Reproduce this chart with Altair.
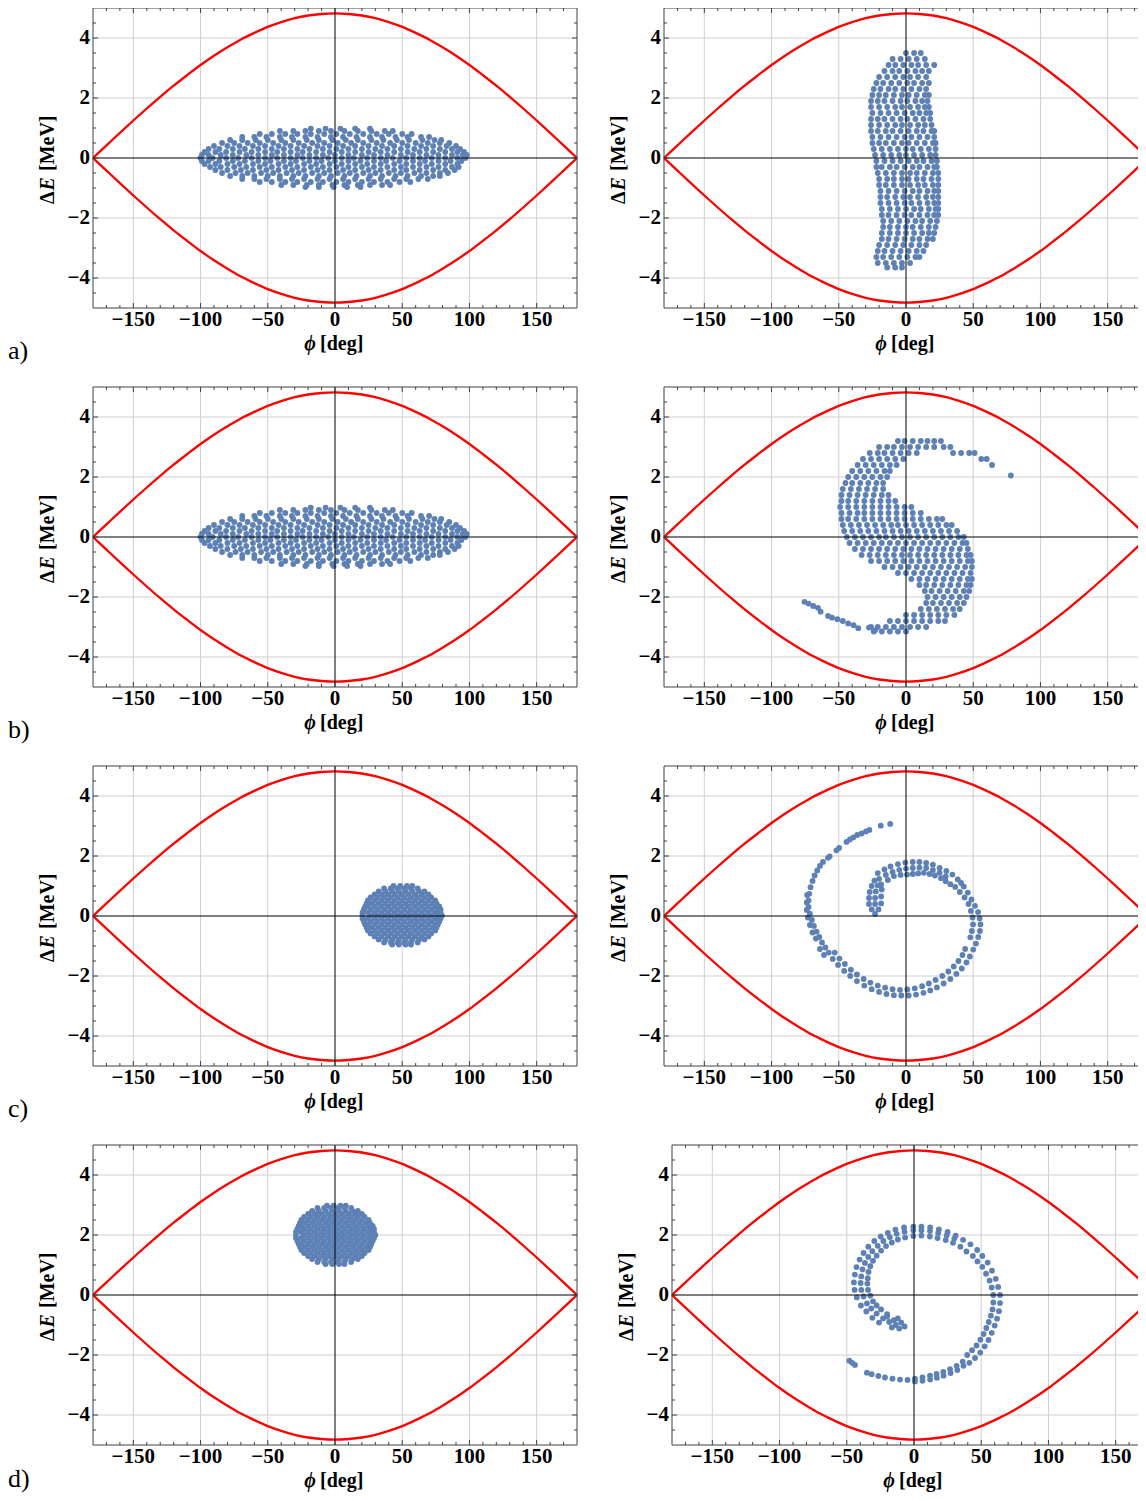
import altair as alt
import pandas as pd

W = 484          # plot width of one panel
H = 300          # plot height
CANVAS_W = 1130  # page width 1146 minus the two 8px body margins
CANVAS_H = 1485  # page height 1501 minus the two 8px body margins
FONT = "Liberation Serif, Times New Roman, DejaVu Serif, serif"
BLUE = "#5E81B5"
RED = "#FF0000"
GRID = "#cfcfcf"
FRAME = "#404040"

# panel origins (left, top) in canvas pixels
col_left = [85, 656]
row_top = [0, 379, 758, 1137]

# ---------------- axis / tick values ----------------
phi_major = [-150, -100, -50, 0, 50, 100, 150]
phi_minor = [-170, -160, -140, -130, -120, -110, -90, -80, -70, -60, -40, -30, -20, -10,
             10, 20, 30, 40, 60, 70, 80, 90, 110, 120, 130, 140, 160, 170]
dE_major = [-4, -2, 0, 2, 4]
dE_minor = [-4.5, -3.5, -3, -2.5, -1.5, -1, -0.5, 0.5, 1, 1.5, 2.5, 3, 3.5, 4.5]
phi_grid = [-150, -100, -50, 50, 100, 150]
dE_grid = [-4, -2, 2, 4]
zero = [0]
row_labels = ["a)", "b)", "c)", "d)"]
x_title = ["ϕ", "[deg]"]
y_title = ["Δ", "E", "[MeV]"]

# ---------------- separatrix ----------------
sep_phi = [-180, -170, -160, -150, -140, -130, -120, -110, -100, -90, -80, -70, -60, -50, -40, -30,
           -20, -10, 0, 10, 20, 30, 40, 50, 60, 70, 80, 90, 100, 110, 120, 130, 140, 150, 160, 170, 180]
sep_dE = [0.00, 0.42, 0.84, 1.25, 1.65, 2.04, 2.41, 2.76, 3.10, 3.41, 3.69, 3.95, 4.17, 4.37, 4.53, 4.66,
          4.75, 4.80, 4.82, 4.80, 4.75, 4.66, 4.53, 4.37, 4.17, 3.95, 3.69, 3.41, 3.10, 2.76, 2.41, 2.04,
          1.65, 1.25, 0.84, 0.42, 0.00]

# ---------------- particle clouds ----------------
# a) / b) left: initial elliptical bunch   (dE, [phi ...])
ellipse_rows = [
    (0.98, [-18, -7, 4, 15, 26]),
    (0.90, [-41, -31, -22, -12, -3, 7, 17, 27, 37, 43]),
    (0.80, [-56, -47, -37, -28, -18, -8, 1, 11, 21, 31, 40, 50, 57]),
    (0.70, [-69, -60, -51, -41, -32, -22, -13, -3, 6, 16, 26, 35, 45, 54, 64, 70]),
    (0.60, [-78, -69, -59, -50, -40, -31, -21, -12, -2, 8, 17, 27, 36, 46, 55, 65, 74, 79]),
    (0.50, [-84, -75, -65, -56, -46, -37, -27, -17, -8, 2, 12, 21, 31, 41, 50, 60, 69, 78, 85]),
    (0.40, [-90, -80, -71, -61, -52, -42, -33, -23, -13, -4, 6, 15, 25, 35, 44, 54, 64, 73, 83, 90]),
    (0.30, [-94, -86, -76, -67, -57, -47, -38, -28, -19, -9, 1, 10, 20, 30, 39, 49, 59, 68, 78, 87, 93]),
    (0.20, [-97, -89, -81, -71, -62, -52, -43, -33, -24, -14, -4, 5, 15, 25, 34, 44, 54, 63, 73, 82, 91, 96]),
    (0.10, [-99, -94, -85, -76, -66, -57, -47, -38, -28, -19, -9, 0, 10, 20, 29, 39, 49, 58, 68, 77, 87, 95, 98]),
    (0.00, [-100, -91, -81, -72, -62, -52, -43, -33, -24, -14, -5, 5, 14, 24, 34, 43, 53, 63, 72, 82, 91, 97]),
    (-0.10, [-99, -94, -86, -76, -67, -57, -48, -38, -29, -19, -10, 0, 10, 19, 29, 38, 48, 58, 67, 77, 86, 94]),
    (-0.20, [-97, -89, -80, -71, -61, -52, -42, -33, -23, -14, -4, 5, 15, 24, 34, 44, 53, 63, 72, 82, 91]),
    (-0.30, [-93, -85, -75, -66, -56, -47, -37, -28, -18, -9, 1, 10, 20, 29, 39, 49, 58, 68, 77, 87, 92]),
    (-0.40, [-89, -80, -70, -61, -51, -42, -32, -23, -13, -4, 6, 15, 25, 34, 44, 53, 63, 73, 82, 89]),
    (-0.50, [-84, -74, -65, -55, -46, -36, -27, -17, -8, 2, 11, 21, 30, 40, 49, 59, 68, 78, 84]),
    (-0.60, [-78, -69, -60, -50, -41, -31, -22, -12, -3, 7, 16, 26, 35, 45, 54, 64, 73, 78]),
    (-0.70, [-69, -60, -51, -41, -32, -23, -13, -4, 6, 15, 25, 34, 44, 53, 62, 69]),
    (-0.80, [-56, -47, -37, -28, -18, -9, 1, 10, 20, 29, 39, 48, 56]),
    (-0.90, [-40, -31, -21, -12, -2, 7, 17, 26, 35, 41]),
    (-0.97, [-22, -12, -1, 9, 19]),
]

# a) right: banana after a quarter turn   (dE, [phi ...])
banana_rows = [
    (3.50, [0, 6, 11]),
    (3.30, [-10, -4, 2, 8, 14]),
    (3.10, [-13, -8, -2, 4, 9, 15, 21]),
    (2.90, [-16, -10, -5, 1, 7, 12, 17]),
    (2.70, [-20, -14, -8, -2, 3, 9, 15]),
    (2.50, [-22, -17, -11, -5, 1, 6, 12, 17]),
    (2.30, [-24, -19, -13, -8, -2, 4, 10, 15]),
    (2.10, [-25, -20, -15, -9, -3, 2, 8, 14, 17]),
    (1.90, [-26, -21, -16, -10, -4, 1, 7, 12, 16]),
    (1.70, [-26, -20, -14, -8, -3, 3, 9, 14, 17]),
    (1.50, [-25, -19, -13, -7, -1, 5, 10, 15, 18]),
    (1.30, [-26, -21, -16, -10, -4, 1, 7, 13, 18]),
    (1.10, [-26, -20, -14, -8, -3, 3, 9, 14, 19]),
    (0.90, [-26, -21, -15, -10, -4, 2, 8, 13, 19, 21]),
    (0.70, [-25, -19, -13, -7, -1, 4, 10, 16, 21]),
    (0.50, [-25, -20, -15, -9, -3, 2, 8, 14, 20, 22]),
    (0.30, [-24, -18, -12, -6, 0, 5, 11, 17, 22]),
    (0.10, [-23, -17, -11, -5, 0, 6, 12, 18, 22]),
    (-0.10, [-22, -16, -10, -4, 2, 8, 13, 19, 23]),
    (-0.30, [-22, -18, -12, -7, -1, 5, 10, 16, 21, 23]),
    (-0.50, [-21, -15, -9, -3, 3, 8, 14, 20, 24]),
    (-0.70, [-20, -14, -9, -3, 2, 8, 13, 19, 24]),
    (-0.90, [-20, -15, -9, -3, 3, 9, 14, 20, 24]),
    (-1.10, [-19, -13, -7, -1, 5, 10, 16, 21, 24]),
    (-1.30, [-19, -14, -8, -2, 3, 9, 15, 20, 24]),
    (-1.50, [-19, -13, -7, -1, 4, 10, 16, 21, 24]),
    (-1.70, [-18, -12, -6, 0, 6, 11, 17, 22, 24]),
    (-1.90, [-18, -13, -7, -1, 4, 10, 16, 21, 24]),
    (-2.10, [-17, -11, -5, 1, 7, 12, 18, 23]),
    (-2.30, [-17, -12, -6, 0, 5, 11, 17, 22]),
    (-2.50, [-18, -12, -6, 0, 6, 12, 17, 21]),
    (-2.70, [-18, -13, -7, -1, 5, 10, 16, 20]),
    (-2.90, [-20, -14, -8, -2, 4, 10, 15]),
    (-3.10, [-21, -16, -10, -4, 2, 8, 13]),
    (-3.30, [-22, -17, -11, -5, 1, 7, 10]),
    (-3.50, [-21, -15, -9, -3, 3]),
    (-3.65, [-14, -8, -3]),
]

# b) right: S-shaped filament   (dE, [phi ...]) plus lower-left tail points
s_rows = [
    (3.20, [-6, -1, 5, 11, 16, 21, 26]),
    (3.00, [-20, -14, -9, -3, 3, 9, 15, 21, 28, 33]),
    (2.80, [-27, -21, -16, -10, -4, 2, 8, 35, 41, 47, 51]),
    (2.60, [-32, -26, -20, -14, -8, -2, 56, 60]),
    (2.40, [-36, -30, -24, -18, -12, -7, 64]),
    (2.20, [-40, -34, -28, -22, -16, -12]),
    (2.05, [78]),
    (2.00, [-43, -37, -31, -25, -19, -14]),
    (1.80, [-45, -40, -34, -28, -22, -17]),
    (1.60, [-47, -41, -35, -29, -23, -17]),
    (1.40, [-48, -42, -36, -30, -24, -18, -13]),
    (1.20, [-48, -43, -37, -31, -25, -19, -13, -8]),
    (1.00, [-49, -43, -37, -31, -25, -19, -13, -7, -1, 4]),
    (0.80, [-48, -42, -36, -31, -25, -19, -13, -7, -1, 5, 11]),
    (0.60, [-48, -43, -37, -31, -25, -19, -13, -7, -1, 5, 11, 17, 23, 27]),
    (0.40, [-47, -41, -35, -29, -23, -17, -11, -6, 0, 6, 12, 18, 24, 30, 34]),
    (0.20, [-46, -40, -34, -28, -22, -16, -10, -4, 2, 8, 14, 20, 26, 32, 38]),
    (0.00, [-44, -38, -32, -26, -20, -15, -9, -3, 3, 9, 15, 21, 27, 33, 39, 43]),
    (-0.20, [-42, -36, -30, -24, -18, -12, -6, 0, 6, 12, 18, 24, 30, 36, 42, 45]),
    (-0.40, [-38, -32, -26, -20, -14, -8, -2, 4, 10, 16, 22, 28, 34, 40, 46]),
    (-0.60, [-33, -27, -21, -15, -9, -3, 3, 9, 15, 21, 27, 33, 39, 45, 48]),
    (-0.80, [-26, -20, -14, -8, -2, 4, 10, 16, 22, 28, 34, 40, 46, 49]),
    (-1.00, [-16, -10, -4, 2, 8, 14, 20, 26, 32, 38, 44, 49]),
    (-1.20, [-6, 0, 6, 12, 18, 24, 30, 36, 42, 48]),
    (-1.40, [4, 10, 16, 22, 28, 34, 40, 46, 49]),
    (-1.60, [10, 15, 21, 27, 33, 39, 45, 48]),
    (-1.80, [14, 19, 25, 31, 37, 43, 47]),
    (-2.00, [16, 22, 28, 34, 40, 45]),
    (-2.20, [15, 20, 26, 32, 38, 43]),
    (-2.40, [11, 17, 23, 29, 35, 40]),
    (-2.60, [0, 6, 12, 18, 24, 30, 36]),
    (-2.80, [-12, -6, 0, 6, 12, 18, 24, 29]),
    (-3.00, [-26, -21, -15, -9, -3, 3, 9, 15]),
    (-3.15, [-24, -18, -12, -6, 0]),
]
s_tail = [(-75.5, -2.16), (-72.5, -2.22), (-69, -2.30), (-65.5, -2.36), (-63.5, -2.49), (-58, -2.63),
          (-55, -2.69), (-51, -2.74), (-47, -2.80), (-43, -2.88), (-39, -2.94), (-35.5, -3.04),
          (-27.5, -3.02), (-23, -3.11)]

# c) / d) left: small round bunch, offsets from its centre   (d_dE, [d_phi ...])
bunch_rows = [
    (0.98, [-6, -1, 4, 8]),
    (0.90, [-13, -8, -3, 2, 7, 12]),
    (0.80, [-17, -12, -7, -2, 3, 8, 13, 17]),
    (0.70, [-20, -15, -10, -5, 0, 5, 10, 15, 20]),
    (0.60, [-23, -18, -13, -8, -3, 2, 7, 12, 17, 22]),
    (0.50, [-25, -20, -15, -10, -5, 0, 5, 10, 15, 20, 25]),
    (0.40, [-26, -22, -17, -12, -7, -2, 3, 8, 13, 18, 23, 26]),
    (0.30, [-27, -25, -20, -15, -10, -5, 0, 5, 10, 15, 20, 25, 28]),
    (0.20, [-28, -23, -18, -13, -8, -3, 2, 7, 12, 17, 22, 27, 29]),
    (0.10, [-29, -25, -20, -15, -10, -5, 0, 5, 10, 15, 20, 25, 29]),
    (0.00, [-29, -23, -18, -13, -8, -3, 2, 7, 12, 17, 22, 27, 30]),
    (-0.10, [-29, -25, -20, -15, -10, -5, 0, 5, 10, 15, 20, 25, 29]),
    (-0.20, [-28, -23, -18, -13, -8, -3, 2, 7, 12, 17, 22, 27, 28]),
    (-0.30, [-27, -25, -20, -15, -10, -5, 0, 5, 10, 15, 20, 25, 27]),
    (-0.40, [-26, -22, -17, -12, -7, -2, 3, 8, 13, 18, 23, 26]),
    (-0.50, [-25, -20, -15, -10, -5, 0, 5, 10, 15, 20, 25]),
    (-0.60, [-23, -18, -13, -8, -3, 2, 7, 12, 17, 22]),
    (-0.70, [-20, -15, -10, -5, 0, 5, 10, 15, 20]),
    (-0.80, [-17, -12, -7, -2, 3, 8, 13, 17]),
    (-0.90, [-13, -8, -3, 2, 7, 12]),
    (-0.97, [-7, -2, 3, 7]),
]
bunch_centre_c = (49.5, 0.02)
bunch_centre_d = (0.0, 2.0)

# c) right: spiral   (phi, dE)
c_head = [(-23, 0.07), (-25.5, 0.22), (-20.5, 0.22), (-27.5, 0.40), (-23, 0.40), (-18.5, 0.42),
          (-27.5, 0.60), (-23, 0.60), (-18.5, 0.65), (-27, 0.80), (-22.5, 0.82), (-18, 0.88),
          (-25.5, 1.00), (-21, 1.02), (-23.5, 1.18)]
c_arc_outer = [(-21, 1.43), (-16, 1.55), (-11.5, 1.65), (-6, 1.73), (-0.5, 1.78), (5, 1.80), (10, 1.80),
               (15, 1.77), (20, 1.71), (25, 1.60), (30, 1.50), (34.5, 1.38), (38.5, 1.22), (41, 1.10),
               (43, 0.98), (46, 0.78), (48.7, 0.55), (51.3, 0.34), (53.6, 0.13), (54.8, -0.08),
               (55.4, -0.28), (55, -0.50), (53.7, -0.70)]
c_arc_mid = [(-20, 1.24), (-15, 1.37), (-10, 1.47), (-5, 1.54), (0, 1.58), (5, 1.60), (10, 1.61),
             (15, 1.60), (20, 1.53), (25, 1.44), (29.5, 1.32)]
c_arc_inner = [(-18.5, 1.05), (-13.5, 1.20), (-9, 1.33), (-4, 1.37), (0.75, 1.38), (5, 1.40), (9, 1.42),
               (13.25, 1.44), (17.5, 1.40), (21.5, 1.35), (26, 1.26), (29.5, 1.16), (33, 1.06),
               (36.6, 0.97), (40, 0.80), (43.6, 0.62), (46.5, 0.40), (48.3, 0.17), (49.5, -0.05),
               (49.85, -0.28), (49, -0.50), (47.8, -0.71)]
c_low_outer = [(52, -0.92), (50, -1.12), (47.5, -1.35), (45, -1.55), (41.5, -1.75), (37.5, -1.93),
               (33, -2.10), (28, -2.25), (23, -2.38), (18, -2.48), (13, -2.56), (7.5, -2.62), (2, -2.65),
               (-3.5, -2.65), (-9, -2.64), (-14.5, -2.60), (-20, -2.53), (-25.5, -2.44), (-31, -2.32),
               (-36.5, -2.17), (-41.5, -2.00), (-46, -1.83), (-50.5, -1.63), (-54.5, -1.43)]
c_low_inner = [(44, -1.10), (42, -1.30), (39, -1.50), (35.5, -1.68), (31.5, -1.85), (27, -2.00),
               (22, -2.13), (17, -2.25), (12, -2.34), (6.5, -2.41), (1, -2.45), (-4.5, -2.46),
               (-10, -2.44), (-15.5, -2.39), (-21, -2.32), (-26.5, -2.22), (-31.5, -2.10),
               (-36.5, -1.95), (-41, -1.79), (-45.5, -1.60), (-49.5, -1.42), (-53, -1.22)]
c_left = [(-57.5, -1.22), (-60, -1.05), (-62.5, -0.88), (-64.5, -0.70), (-66.5, -0.52), (-68.5, -0.33),
          (-70, -0.13), (-71.5, 0.08), (-72.5, 0.30), (-72.5, 0.52), (-72, 0.74), (-71, 0.96),
          (-69.5, 1.17), (-68, 1.35), (-66, 1.52), (-64, 1.67), (-61, -1.30), (-64, -1.10),
          (-67, -0.75), (-69.5, -0.55), (-71.5, -0.30), (-73, -0.05), (-73.8, 0.20), (-73.8, 0.45),
          (-73.5, 0.70)]
c_tail = [(-61.75, 1.80), (-58, 1.94), (-56.75, 1.99), (-51.75, 2.19), (-49.75, 2.27), (-44.25, 2.47),
          (-41.75, 2.55), (-39.25, 2.62), (-36.25, 2.70), (-33, 2.75), (-29.75, 2.82), (-27.25, 2.87),
          (-18.75, 3.01), (-11.75, 3.07)]

# d) right: spiral   (phi, dE)
d_head = [(-7, -1.05), (-9.5, -0.92), (-11, -1.12), (-13.5, -1.00), (-15, -0.84), (-16.5, -1.08),
          (-18.5, -0.90), (-20, -0.72), (-12, -0.78)]
d_arc_outer = [(-26, -0.92), (-31, -0.76), (-35.5, -0.55), (-39.5, -0.35), (-42.5, -0.08), (-44.2, 0.17),
               (-44.7, 0.42), (-44, 0.68), (-42.8, 0.93), (-40.5, 1.18), (-37.5, 1.40), (-34, 1.61),
               (-29.5, 1.80), (-24.8, 1.95), (-19.5, 2.07), (-13.8, 2.18), (-7.4, 2.25), (-0.5, 2.28),
               (5.5, 2.28), (12, 2.25), (18.5, 2.19), (25, 2.10), (31, 1.98), (36.5, 1.84)]
d_arc_mid = [(-23, -0.78), (-27.8, -0.62), (-31.8, -0.45), (-35, -0.28), (-37.5, -0.05), (-39.2, 0.17),
             (-39.7, 0.40), (-39.2, 0.62), (-38.3, 0.85), (-36.5, 1.07), (-34, 1.27), (-31, 1.46),
             (-27, 1.64), (-22.8, 1.80), (-18, 1.93), (-12.9, 2.04), (-7, 2.11), (-0.5, 2.16), (5.5, 2.16),
             (11.9, 2.13), (18, 2.07), (24.3, 1.99), (30, 1.88)]
d_arc_inner = [(-20, -0.64), (-24.5, -0.48), (-27.8, -0.35), (-30.5, -0.21), (-32.5, -0.02), (-34.2, 0.17),
               (-34.7, 0.38), (-34.4, 0.56), (-33.8, 0.77), (-32.5, 0.96), (-30.5, 1.14), (-27.8, 1.31),
               (-24.5, 1.48), (-20.8, 1.63), (-16.5, 1.75), (-12, 1.85), (-6.6, 1.92), (-0.5, 1.97),
               (5.5, 1.98), (11.8, 1.95), (17.5, 1.90), (23.6, 1.83), (29, 1.74), (34.5, 1.61)]
d_rs_outer = [(42, 1.69), (47, 1.50), (50.8, 1.30), (54.8, 1.08), (58, 0.81), (60.8, 0.54), (62.6, 0.27),
              (64, 0.00), (64, -0.27), (63.2, -0.54), (61.8, -0.79), (60, -1.02), (57.8, -1.26),
              (55.4, -1.50), (52.6, -1.71), (49.3, -1.92), (45.4, -2.10), (41.2, -2.26)]
d_rs_inner = [(39, 1.45), (43.8, 1.30), (47.2, 1.12), (50.8, 0.94), (53.6, 0.71), (56.2, 0.48), (57.8, 0.25),
              (59, 0.00), (59, -0.25), (58.4, -0.48), (57.2, -0.69), (55.6, -0.90), (53.8, -1.10),
              (51.8, -1.30), (49.4, -1.49), (46.5, -1.68), (43.2, -1.84), (39.6, -2.00)]
d_bottom = [(36.2, -2.22), (36.8, -2.36), (31.7, -2.36), (32.2, -2.50), (26.8, -2.47), (27.2, -2.60),
            (21.8, -2.56), (22, -2.69), (16.8, -2.63), (17, -2.76), (11.9, -2.69), (12, -2.82),
            (6.3, -2.75), (6.3, -2.86), (0.7, -2.79), (0.7, -2.88), (-4.8, -2.83), (-10.4, -2.82),
            (-16, -2.79), (-21.6, -2.75), (-26.5, -2.70), (-31.5, -2.64), (-35, -2.59)]
d_tail = [(-43.9, -2.33), (-46, -2.26), (-48.1, -2.19)]


# ---------------- helpers ----------------
def rows_df(rows, centre=(0.0, 0.0)):
    return pd.DataFrame([(x + centre[0], y + centre[1]) for y, xs in rows for x in xs],
                        columns=["phi", "dE"])


def pts_df(*lists):
    return pd.DataFrame([p for lst in lists for p in lst], columns=["phi", "dE"])


def fmt(v):
    return str(v).replace("-", "\u2212")


sep_df = pd.DataFrame({
    "phi": sep_phi + sep_phi,
    "dE": sep_dE + [-v for v in sep_dE],
    "branch": ["upper"] * len(sep_phi) + ["lower"] * len(sep_phi),
})
xlab_df = pd.DataFrame({"v": phi_major, "s": [fmt(v) for v in phi_major]})
ylab_df = pd.DataFrame({"v": dE_major, "s": [fmt(v) for v in dE_major]})
one = pd.DataFrame({"k": [0]})


def text_at(s, x, y, **kw):
    base = dict(font=FONT, fontSize=20, fontWeight="bold", color="black")
    base.update(kw)
    return alt.Chart(pd.DataFrame({"t": [s]})).mark_text(**base).encode(
        x=alt.value(x), y=alt.value(y), text="t:N")


def panel(df, Lx, Ty, label=None, label_dy=351):
    xs = alt.Scale(domain=[-180, 180], range=[Lx, Lx + W], nice=False, zero=False)
    ys = alt.Scale(domain=[-5, 5], range=[Ty + H, Ty], nice=False, zero=False)

    def X(f):
        return alt.X(f, type="quantitative", scale=xs, axis=None)

    def Y(f):
        return alt.Y(f, type="quantitative", scale=ys, axis=None)

    rule = dict(color=FRAME, strokeWidth=1)
    L = []
    # grid
    L.append(alt.Chart(pd.DataFrame({"v": phi_grid})).mark_rule(color=GRID, strokeWidth=1)
             .encode(x=X("v"), y=alt.value(Ty), y2=alt.value(Ty + H)))
    L.append(alt.Chart(pd.DataFrame({"v": dE_grid})).mark_rule(color=GRID, strokeWidth=1)
             .encode(y=Y("v"), x=alt.value(Lx), x2=alt.value(Lx + W)))
    # particles
    L.append(alt.Chart(df).mark_circle(size=34, color=BLUE, opacity=1).encode(x=X("phi"), y=Y("dE")))
    # separatrix
    L.append(alt.Chart(sep_df).mark_line(color=RED, strokeWidth=2.3, interpolate="monotone")
             .encode(x=X("phi"), y=Y("dE"), detail="branch:N"))
    # zero axes
    zdf = pd.DataFrame({"v": zero})
    L.append(alt.Chart(zdf).mark_rule(color="black", strokeWidth=1)
             .encode(x=X("v"), y=alt.value(Ty), y2=alt.value(Ty + H)))
    L.append(alt.Chart(zdf).mark_rule(color="black", strokeWidth=1)
             .encode(y=Y("v"), x=alt.value(Lx), x2=alt.value(Lx + W)))
    # inward frame ticks
    for vals, ln in ((phi_major, 5), (phi_minor, 3)):
        d = pd.DataFrame({"v": vals})
        L.append(alt.Chart(d).mark_rule(**rule).encode(x=X("v"), y=alt.value(Ty), y2=alt.value(Ty + ln)))
        L.append(alt.Chart(d).mark_rule(**rule)
                 .encode(x=X("v"), y=alt.value(Ty + H), y2=alt.value(Ty + H - ln)))
    for vals, ln in ((dE_major, 5), (dE_minor, 3)):
        d = pd.DataFrame({"v": vals})
        L.append(alt.Chart(d).mark_rule(**rule).encode(y=Y("v"), x=alt.value(Lx), x2=alt.value(Lx + ln)))
        L.append(alt.Chart(d).mark_rule(**rule)
                 .encode(y=Y("v"), x=alt.value(Lx + W), x2=alt.value(Lx + W - ln)))
    # frame
    L.append(alt.Chart(one).mark_rect(filled=False, color=FRAME, strokeWidth=1)
             .encode(x=alt.value(Lx), x2=alt.value(Lx + W), y=alt.value(Ty), y2=alt.value(Ty + H)))
    # tick labels
    L.append(alt.Chart(xlab_df).mark_text(font=FONT, fontSize=21, fontWeight="bold", color="black",
                                          align="center", baseline="alphabetic")
             .encode(x=X("v"), y=alt.value(Ty + H + 18), text="s:N"))
    L.append(alt.Chart(ylab_df).mark_text(font=FONT, fontSize=21, fontWeight="bold", color="black",
                                          align="right", baseline="middle")
             .encode(y=Y("v"), x=alt.value(Lx - 3), text="s:N"))
    # axis titles
    c = Lx + W / 2
    L.append(text_at(x_title[0], c - 25, Ty + H + 42, align="center", baseline="alphabetic",
                     fontStyle="italic"))
    L.append(text_at(x_title[1], c - 15, Ty + H + 42, align="left", baseline="alphabetic"))
    tx = Lx - 45
    L.append(text_at(y_title[0], tx, Ty + 196, align="left", baseline="middle", angle=270))
    L.append(text_at(y_title[1], tx, Ty + 182.5, align="left", baseline="middle", angle=270,
                     fontStyle="italic"))
    L.append(text_at(y_title[2], tx, Ty + 163, align="left", baseline="middle", angle=270))
    # row label
    if label:
        L.append(text_at(label, Lx - 85, Ty + label_dy, fontSize=26, fontWeight="normal",
                         align="left", baseline="alphabetic"))
    return alt.layer(*L)


ellipse = rows_df(ellipse_rows)
lx, rx = col_left
panels = [
    panel(ellipse, lx, row_top[0], label=row_labels[0]),
    panel(rows_df(banana_rows), rx, row_top[0]),
    panel(ellipse, lx, row_top[1], label=row_labels[1]),
    panel(pd.concat([rows_df(s_rows), pts_df(s_tail)], ignore_index=True), rx, row_top[1]),
    panel(rows_df(bunch_rows, bunch_centre_c), lx, row_top[2], label=row_labels[2]),
    panel(pts_df(c_head, c_arc_outer, c_arc_mid, c_arc_inner, c_low_outer, c_low_inner, c_left, c_tail),
          rx, row_top[2]),
    panel(rows_df(bunch_rows, bunch_centre_d), lx, row_top[3], label=row_labels[3], label_dy=342),
    panel(pts_df(d_head, d_arc_outer, d_arc_mid, d_arc_inner, d_rs_outer, d_rs_inner, d_bottom, d_tail),
          rx + 8, row_top[3]),
]

chart = alt.layer(*panels).resolve_scale(x="independent", y="independent").properties(
    width=CANVAS_W, height=CANVAS_H, padding=0, background="white",
    autosize=alt.AutoSizeParams(type="none"),
).configure_view(stroke="transparent")

chart.save("out.html", embed_options={"renderer": "svg", "actions": False})
